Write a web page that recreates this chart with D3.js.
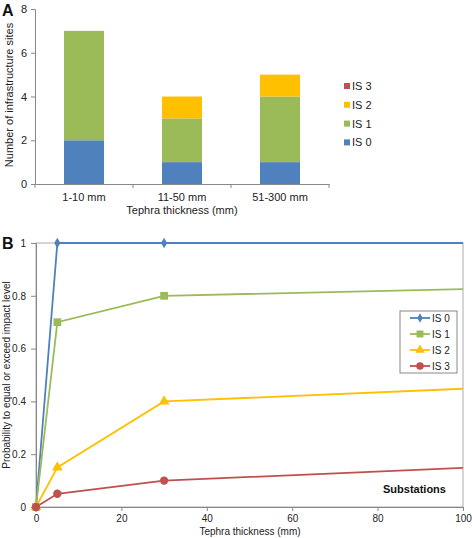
<!DOCTYPE html>
<html><head><meta charset="utf-8">
<script src="https://cdn.jsdelivr.net/npm/d3@7"></script>
<style>body{margin:0;background:#fff}svg{display:block;font-family:"Liberation Sans",Arial,sans-serif}</style>
</head><body><svg id="c" width="472" height="538"></svg>
<script>
// Panel A data
const categories = ["1-10 mm", "11-50 mm", "51-300 mm"];
const levels = ["IS 0", "IS 1", "IS 2", "IS 3"];
const is0Counts = [2, 1, 1];
const is1Counts = [5, 2, 3];
const is2Counts = [0, 1, 1];
const is3Counts = [0, 0, 0];
const aTicks = [0, 2, 4, 6, 8];
// Panel B data
const thickness = [0, 5, 30, 100];
const pIS0 = [0, 1, 1, 1];
const pIS1 = [0, 0.7, 0.8, 0.825];
const pIS2 = [0, 0.15, 0.4, 0.448];
const pIS3 = [0, 0.05, 0.1, 0.148];
const markerCount = 3; // markers at first three points
const bXTicks = [0, 20, 40, 60, 80, 100];
const bYTicks = [0, 0.2, 0.4, 0.6, 0.8, 1];
const colors = ["#4f81bd", "#9bbb59", "#ffc000", "#c0504d"];

const svg = d3.select("#c");
const axisCol = "#888";

// ---------- Panel A ----------
const ax = d3.scaleBand().domain(categories).range([35, 329]).paddingInner(0).paddingOuter(0);
const ay = d3.scaleLinear().domain([0, 8]).range([184, 9]);
const gA = svg.append("g");
const rows = categories.map((c, i) => ({cat: c, "IS 0": is0Counts[i], "IS 1": is1Counts[i], "IS 2": is2Counts[i], "IS 3": is3Counts[i]}));
const stack = d3.stack().keys(levels)(rows);
const bw = 40;
stack.forEach((s, k) => {
  gA.selectAll(null).data(s).enter().append("rect")
    .attr("x", d => ax(d.data.cat) + ax.bandwidth()/2 - bw/2)
    .attr("width", bw)
    .attr("y", d => ay(d[1]))
    .attr("height", d => ay(d[0]) - ay(d[1]))
    .attr("fill", colors[k]);
});
// y axis
const yaxA = gA.append("g").attr("transform", "translate(35,0)").call(d3.axisLeft(ay).tickValues(aTicks).tickSize(4).tickPadding(4));
// x axis
const xaxA = gA.append("g").attr("transform", "translate(0,184)").call(d3.axisBottom(ax).tickSize(0).tickPadding(9));
xaxA.selectAll(".tick line").remove();
[35, 133, 231, 329].forEach(x => gA.append("line").attr("x1", x).attr("x2", x).attr("y1", 184).attr("y2", 188).attr("stroke", axisCol));
[yaxA, xaxA].forEach(g => {
  g.select(".domain").attr("stroke", axisCol);
  g.selectAll(".tick line").attr("stroke", axisCol);
  g.selectAll("text").attr("font-size", 11).attr("fill", "#222").attr("font-family", "Liberation Sans, Arial, sans-serif");
});
gA.append("text").attr("transform", "translate(13,95) rotate(-90)").attr("text-anchor", "middle")
  .attr("font-size", 11).attr("fill", "#222").text("Number of infrastructure sites");
gA.append("text").attr("x", 182).attr("y", 214).attr("text-anchor", "middle")
  .attr("font-size", 11).attr("fill", "#222").text("Tephra thickness (mm)");
gA.append("text").attr("x", 2).attr("y", 16).attr("font-size", 16).attr("font-weight", "bold").attr("fill", "#111").text("A");
// legend A (reverse order)
const legA = gA.append("g");
levels.slice().reverse().forEach((l, i) => {
  const ci = levels.length - 1 - i;
  legA.append("rect").attr("x", 344).attr("y", 83 + i*18.8).attr("width", 6).attr("height", 6).attr("fill", colors[ci]);
  legA.append("text").attr("x", 352).attr("y", 90 + i*18.8).attr("font-size", 11).attr("fill", "#222").text(l);
});

// ---------- Panel B ----------
const bx = d3.scaleLinear().domain([0, 100]).range([36, 463]);
const by = d3.scaleLinear().domain([0, 1]).range([507, 243]);
const gB = svg.append("g");
// plot border
gB.append("rect").attr("x", 36).attr("y", 243).attr("width", 427).attr("height", 264).attr("fill", "none").attr("stroke", "#aaa");
const yaxB = gB.append("g").attr("transform", "translate(36,0)").call(d3.axisLeft(by).tickValues(bYTicks).tickSize(5).tickPadding(5).tickFormat(d3.format("~g")));
const xaxB = gB.append("g").attr("transform", "translate(0,507)").call(d3.axisBottom(bx).tickValues(bXTicks).tickSize(4).tickPadding(4));
[yaxB, xaxB].forEach(g => {
  g.select(".domain").attr("stroke", axisCol);
  g.selectAll(".tick line").attr("stroke", axisCol);
  g.selectAll("text").attr("font-size", 10).attr("fill", "#222").attr("font-family", "Liberation Sans, Arial, sans-serif");
});
const seriesB = [pIS0, pIS1, pIS2, pIS3];
const line = d3.line().x(d => bx(d[0])).y(d => by(d[1]));
const symbols = [d3.symbolDiamond, d3.symbolSquare, d3.symbolTriangle, d3.symbolCircle];
const symSizes = [32, 60, 50, 55];
seriesB.forEach((s, k) => {
  const pts = thickness.map((t, i) => [t, s[i]]);
  gB.append("path").attr("d", line(pts)).attr("fill", "none").attr("stroke", colors[k]).attr("stroke-width", 1.8);
});
seriesB.forEach((s, k) => {
  const pts = thickness.map((t, i) => [t, s[i]]).slice(0, markerCount);
  gB.selectAll(null).data(pts).enter().append("path")
    .attr("d", d3.symbol().type(symbols[k]).size(symSizes[k]))
    .attr("transform", d => `translate(${bx(d[0])},${by(d[1])})`)
    .attr("fill", colors[k]);
});
gB.append("text").attr("transform", "translate(10,375) rotate(-90)").attr("text-anchor", "middle")
  .attr("font-size", 10).attr("fill", "#222").text("Probability to equal or exceed impact level");
gB.append("text").attr("x", 250).attr("y", 535).attr("text-anchor", "middle")
  .attr("font-size", 10).attr("fill", "#222").text("Tephra thickness (mm)");
gB.append("text").attr("x", 2).attr("y", 249).attr("font-size", 16).attr("font-weight", "bold").attr("fill", "#111").text("B");
gB.append("text").attr("x", 383).attr("y", 493).attr("font-size", 11).attr("font-weight", "bold").attr("fill", "#111").text("Substations");
// legend B
const legB = gB.append("g");
legB.append("rect").attr("x", 400).attr("y", 311).attr("width", 57).attr("height", 62).attr("fill", "#fff").attr("stroke", "#888");
levels.forEach((l, k) => {
  const yy = 318 + k*16;
  legB.append("line").attr("x1", 410).attr("x2", 430).attr("y1", yy).attr("y2", yy).attr("stroke", colors[k]).attr("stroke-width", 1.8);
  legB.append("path").attr("d", d3.symbol().type(symbols[k]).size(symSizes[k]*0.8)).attr("transform", `translate(420,${yy})`).attr("fill", colors[k]);
  legB.append("text").attr("x", 432).attr("y", yy + 4).attr("font-size", 10).attr("fill", "#222").text(l);
});
</script></body></html>
